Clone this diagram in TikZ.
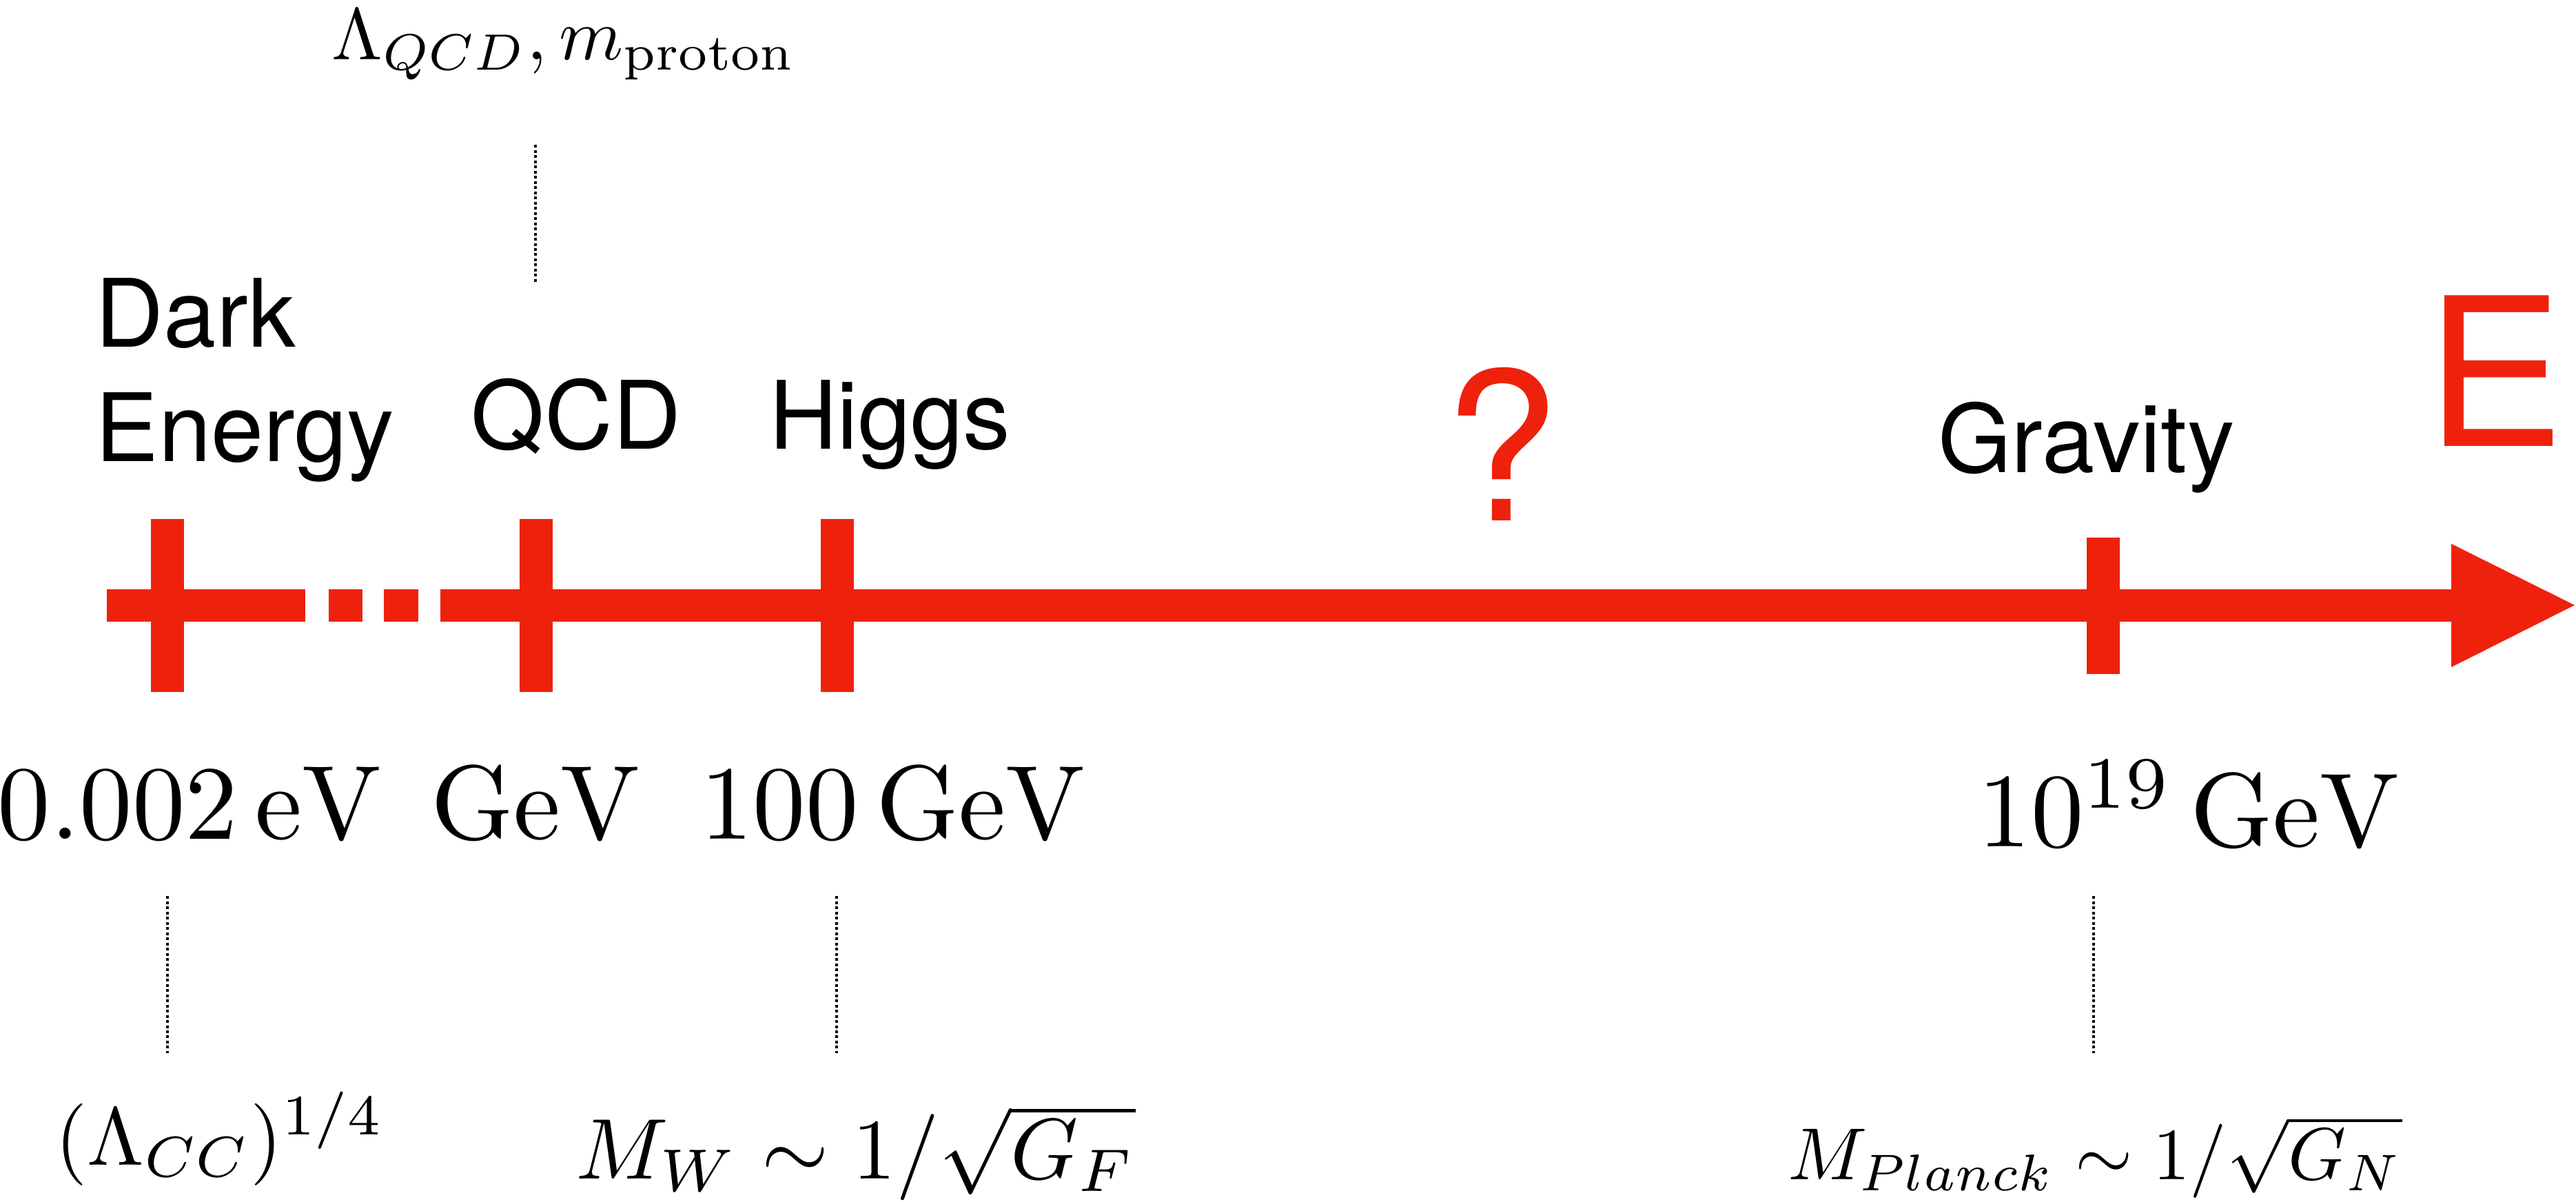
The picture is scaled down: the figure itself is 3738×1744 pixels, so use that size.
\documentclass[tikz,border=0pt]{standalone}
\usepackage{fontspec}
\newfontfamily\helv{TeX Gyre Heros}
\definecolor{axred}{RGB}{238,34,12}
\begin{document}
\begin{tikzpicture}[x=0.1pt,y=-0.1pt,
  sanslab/.style={inner sep=0pt, font=\helv\fontsize{13.7}{16}\selectfont},
  redlab/.style={inner sep=0pt, text=axred, font=\helv\fontsize{30}{34}\selectfont},
  gevlab/.style={inner sep=0pt, anchor=base, scale=1.53},
  formlab/.style={inner sep=0pt, anchor=base},
  axpart/.style={fill=axred, draw=none},
  dotline/.style={draw=black, line width=0.4pt, dash pattern=on 0.4pt off 0.35pt}]
\useasboundingbox (0,0) rectangle (3738,1744);
% axis
\fill[axpart] (155,854.5) rectangle (443,901.5);
\fill[axpart] (477,854.5) rectangle (526,901.5);
\fill[axpart] (557,854.5) rectangle (607,901.5);
\fill[axpart] (639,854.5) rectangle (3558,901.5);
\fill[axpart] (3557,789) -- (3736,878) -- (3557,968) -- cycle;
% ticks
\fill[axpart] (219,753) rectangle (267,1004);
\fill[axpart] (754,753) rectangle (802,1004);
\fill[axpart] (1191,753) rectangle (1239,1004);
\fill[axpart] (3028,780) rectangle (3076,978);
% sans labels
\node[sanslab, anchor=base west] (dark) at (137,503) {Dark};
\node[sanslab, anchor=base west] (energy) at (137,669) {Energy};
\node[sanslab, anchor=base west] (qcd) at (682,651) {QCD};
\node[sanslab, anchor=base west] (higgs) at (1114,651) {Higgs};
\node[sanslab, anchor=base west] (gravity) at (2810,685) {Gravity};
\node[redlab, anchor=base] (qmark) at (2179,755) {?};
\node[redlab, anchor=base west] (elab) at (3518,647) {E};
% energy values
\node[gevlab] (v1) at (275,1217) {$0.002\,\mathrm{eV}$};
\node[gevlab] (v2) at (777,1217) {$\mathrm{GeV}$};
\node[gevlab] (v3) at (1295,1217) {$100\,\mathrm{GeV}$};
\node[gevlab] (v4) at (3176,1228) {$10^{19}\,\mathrm{GeV}$};
% formulas
\node[formlab, scale=1.06] (lqcd) at (818,86) {$\Lambda_{QCD}, m_{\mathrm{proton}}$};
\node[formlab, scale=1.19] (f1) at (319,1690) {$(\Lambda_{CC})^{1/4}$};
\node[formlab, scale=1.25] (f2) at (1242,1710) {$M_W \sim 1/\sqrt{G_F}$};
\node[formlab, scale=1.07] (f3) at (3040,1711) {$M_{Planck} \sim 1/\sqrt{G_N}$};
% dotted guides
\coordinate (t1) at (777,210); \coordinate (t2) at (777,410);
\coordinate (b1a) at (243,1300); \coordinate (b1b) at (243,1528);
\coordinate (b2a) at (1214,1300); \coordinate (b2b) at (1214,1528);
\coordinate (b3a) at (3038,1300); \coordinate (b3b) at (3038,1528);
\draw[dotline] (t1) -- (t2);
\draw[dotline] (b1a) -- (b1b);
\draw[dotline] (b2a) -- (b2b);
\draw[dotline] (b3a) -- (b3b);
\end{tikzpicture}
\end{document}
